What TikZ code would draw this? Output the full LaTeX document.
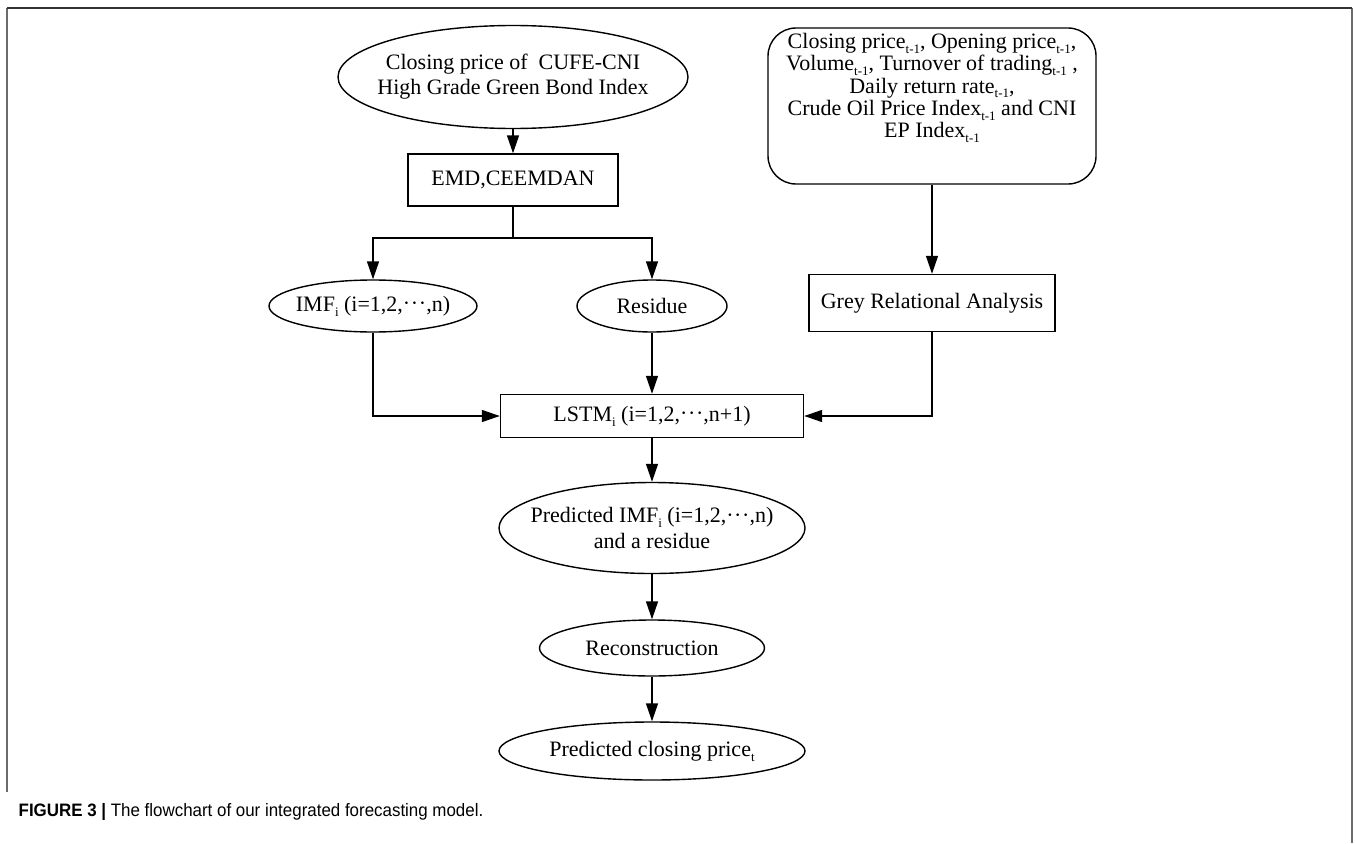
\documentclass[tikz,border=0pt]{standalone}
\usepackage{fontspec}
\setmainfont{Liberation Serif}
\newfontfamily\capfont[FakeStretch=0.94]{Liberation Sans}
\usetikzlibrary{shapes.geometric,arrows.meta}
\newcommand\sbt[1]{\raisebox{-0.22em}{\fontsize{13}{13}\selectfont #1}}
\newcommand\cdt{\raisebox{0.02em}{\char"00B7\kern0.03em\char"00B7\kern0.03em\char"00B7}}
\begin{document}
\begin{tikzpicture}[x=1pt,y=-1pt,
  line width=1.4pt,
  arr/.style={-{Triangle[length=18pt,width=12pt]}},
  ell/.style={draw, ellipse, inner sep=0pt},
  box/.style={draw, rectangle, inner sep=0pt, font=\fontsize{22}{25}\selectfont},
  txt/.style={font=\fontsize{22}{25}\selectfont, align=center, inner sep=0pt},
  frametop/.style={line width=2pt, draw=black!80},
  frameside/.style={line width=2pt, draw=black!58},
]
\useasboundingbox (0,0) rectangle (1356,843);
% frame
\coordinate (fbl) at (7,792);
\coordinate (ftl) at (7,8);
\coordinate (ftr) at (1352,8);
\coordinate (fbr) at (1352,843);
\draw[frameside] (fbl) -- (ftl);
\draw[frameside] (ftr) -- (fbr);
\draw[frametop] (ftl) -- (ftr);

% nodes
\node[ell, minimum width=350pt, minimum height=103pt] (top) at (513,77) {};
\node[txt] (top-t) at (top) {Closing price of~ CUFE-CNI\\High Grade Green Bond Index};

\node[box, minimum width=210pt, minimum height=52pt] (emd) at (513,180) {EMD,CEEMDAN};

\node[ell, minimum width=208pt, minimum height=52pt] (imf) at (373,306) {};
\node[txt] (imf-t) at (imf) {IMF\sbt{i} (i=1,2,\cdt,n)};

\node[ell, minimum width=150pt, minimum height=52pt] (res) at (652,306) {};
\node[txt] (res-t) at (res) {Residue};

\node[draw, rounded corners=28pt, minimum width=328pt, minimum height=156pt, inner sep=0pt] (feat) at (932,106) {};
\node[txt, font=\fontsize{22}{22.3}\selectfont] (feat-t) at (932,88) {Closing price\sbt{t-1}, Opening price\sbt{t-1},\\
Volume\sbt{t-1}, Turnover of trading\sbt{t-1} ,\\
Daily return rate\sbt{t-1},\\
Crude Oil Price Index\sbt{t-1} and CNI\\
EP Index\sbt{t-1}};

\node[box, minimum width=246pt, minimum height=57pt] (grey) at (932,303) {Grey Relational Analysis};

\node[box, minimum width=303pt, minimum height=43pt] (lstm) at (652,416) {LSTM\sbt{i} (i=1,2,\cdt,n+1)};

\node[ell, minimum width=306pt, minimum height=91pt] (pred) at (652,528) {};
\node[txt, font=\fontsize{22}{26}\selectfont] (pred-t) at (pred) {Predicted IMF\sbt{i} (i=1,2,\cdt,n)\\and a residue};

\node[ell, minimum width=225pt, minimum height=56pt] (rec) at (652,648) {};
\node[txt] (rec-t) at (rec) {Reconstruction};

\node[ell, minimum width=306pt, minimum height=58pt] (clo) at (652,751) {};
\node[txt] (clo-t) at (clo) {Predicted closing price\sbt{t}};

% connectors
\coordinate (br) at (513,238);
\draw[arr] (top.south) -- (emd.north);
\draw (emd.south) -- (br);
\draw[arr] (br) -| (imf.north);
\draw[arr] (br) -| (res.north);
\draw[arr] (feat.south) -- (grey.north);
\draw[arr] (imf.south) |- (lstm.west);
\draw[arr] (res.south) -- (lstm.north);
\draw[arr] (grey.south) |- (lstm.east);
\draw[arr] (lstm.south) -- (pred.north);
\draw[arr] (pred.south) -- (rec.north);
\draw[arr] (rec.south) -- (clo.north);

% caption
\node[anchor=west, inner sep=0pt, font=\capfont\fontsize{18}{20}\selectfont] (cap) at (18,812) {\textbf{FIGURE 3 |} The flowchart of our integrated forecasting model.};
\end{tikzpicture}
\end{document}
